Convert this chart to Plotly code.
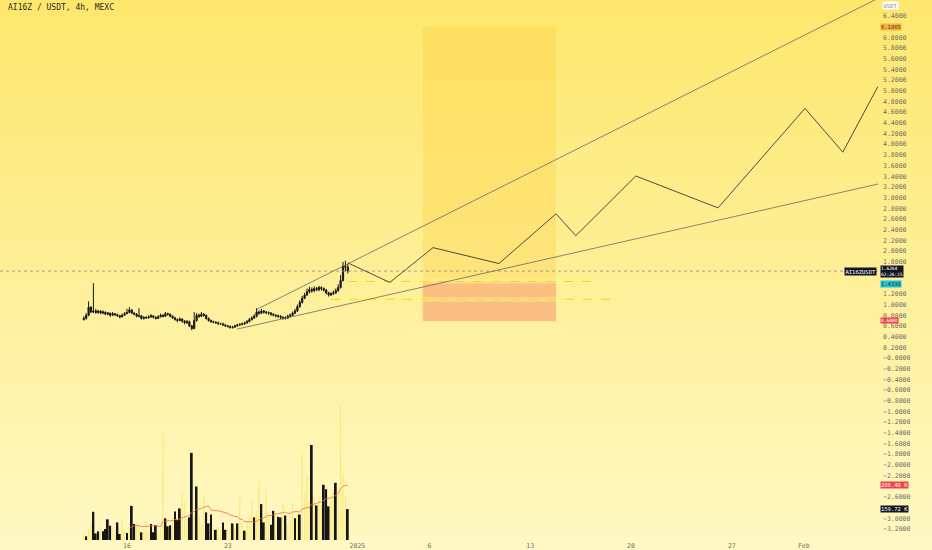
import pandas as pd
import plotly.graph_objects as go

# ---------------- data ----------------
symbol_title = "AI16Z / USDT, 4h, MEXC"
symbol_tag = "AI16ZUSDT"
start_time = "2024-12-13 00:00"
first_open = 0.72

closes = [0.74, 0.80, 0.95, 0.86, 0.88, 0.85, 0.88, 0.84, 0.86, 0.82,
          0.84, 0.80, 0.83, 0.81, 0.79, 0.77, 0.80, 0.83, 0.85, 0.90,
          0.84, 0.82, 0.78, 0.79, 0.74, 0.76, 0.75, 0.77, 0.79, 0.76,
          0.74, 0.77, 0.80, 0.78, 0.83, 0.82, 0.78, 0.75, 0.72, 0.70,
          0.73, 0.69, 0.66, 0.68, 0.60, 0.55, 0.70, 0.80, 0.78, 0.82,
          0.80, 0.74, 0.70, 0.68, 0.67, 0.66, 0.64, 0.64, 0.62, 0.60,
          0.59, 0.57, 0.58, 0.60, 0.62, 0.63, 0.64, 0.66, 0.68, 0.72,
          0.75, 0.78, 0.86, 0.84, 0.88, 0.86, 0.85, 0.84, 0.82, 0.80,
          0.79, 0.78, 0.76, 0.74, 0.75, 0.78, 0.80, 0.84, 0.88, 0.96,
          1.04, 1.12, 1.18, 1.24, 1.28, 1.26, 1.30, 1.28, 1.32, 1.30,
          1.27, 1.22, 1.18, 1.20, 1.22, 1.26, 1.32, 1.45, 1.72, 1.70,
          1.6264]
highs = [0.78, 0.84, 1.06, 0.97, 1.40, 0.92, 0.90, 0.89, 0.89, 0.87,
         0.86, 0.85, 0.86, 0.84, 0.83, 0.81, 0.83, 0.86, 0.92, 0.95,
         0.91, 0.86, 0.84, 0.93, 0.80, 0.78, 0.78, 0.80, 0.82, 0.80,
         0.78, 0.80, 0.83, 0.82, 0.86, 0.85, 0.83, 0.80, 0.77, 0.74,
         0.76, 0.74, 0.71, 0.71, 0.70, 0.62, 0.86, 0.84, 0.83, 0.86,
         0.84, 0.81, 0.76, 0.72, 0.70, 0.69, 0.68, 0.66, 0.66, 0.64,
         0.62, 0.61, 0.60, 0.62, 0.64, 0.65, 0.66, 0.68, 0.71, 0.75,
         0.78, 0.82, 0.93, 0.89, 0.92, 0.90, 0.88, 0.87, 0.86, 0.84,
         0.82, 0.81, 0.80, 0.78, 0.78, 0.81, 0.83, 0.87, 0.92, 1.00,
         1.08, 1.16, 1.22, 1.30, 1.33, 1.32, 1.34, 1.33, 1.35, 1.34,
         1.32, 1.29, 1.24, 1.23, 1.26, 1.30, 1.38, 1.55, 1.80, 1.82,
         1.76]
lows = [0.70, 0.72, 0.78, 0.84, 0.84, 0.83, 0.83, 0.82, 0.82, 0.80,
        0.80, 0.77, 0.79, 0.79, 0.77, 0.74, 0.76, 0.79, 0.82, 0.84,
        0.82, 0.80, 0.76, 0.76, 0.72, 0.72, 0.73, 0.74, 0.75, 0.74,
        0.72, 0.73, 0.76, 0.76, 0.77, 0.79, 0.76, 0.73, 0.70, 0.67,
        0.69, 0.66, 0.63, 0.64, 0.58, 0.52, 0.54, 0.68, 0.75, 0.77,
        0.77, 0.72, 0.68, 0.66, 0.65, 0.64, 0.62, 0.62, 0.60, 0.58,
        0.57, 0.55, 0.55, 0.56, 0.59, 0.60, 0.61, 0.62, 0.64, 0.67,
        0.70, 0.73, 0.76, 0.81, 0.82, 0.83, 0.82, 0.81, 0.79, 0.78,
        0.76, 0.75, 0.73, 0.72, 0.72, 0.73, 0.76, 0.78, 0.82, 0.86,
        0.94, 1.02, 1.10, 1.16, 1.21, 1.22, 1.23, 1.25, 1.25, 1.26,
        1.24, 1.19, 1.15, 1.16, 1.18, 1.20, 1.24, 1.30, 1.43, 1.62,
        1.58]
volumes_k = [30, 19, 60, 90, 146, 34, 45, 70, 45, 57,
             107, 74, 60, 40, 91, 31, 110, 50, 36, 60,
             177, 83, 90, 80, 40, 60, 110, 50, 83, 40,
             77, 40, 60, 550, 112, 71, 76, 120, 148, 103,
             163, 240, 200, 110, 117, 451, 130, 277, 120, 80,
             229, 143, 86, 132, 60, 53, 70, 50, 91, 53,
             60, 80, 86, 70, 86, 220, 90, 48, 100, 120,
             200, 117, 150, 303, 186, 91, 263, 120, 79, 151,
             100, 120, 117, 186, 127, 80, 110, 186, 112, 150,
             132, 447, 250, 340, 200, 492, 220, 179, 220, 180,
             286, 263, 174, 200, 254, 296, 240, 698, 344, 230,
             159.72]
vol_dir = "".join(["UDUUDDDUDD", "DDUUDDUUDU", "DDUUDUUUDD", "DUUUDDDUDD",
                   "DUUUDDUDUU", "UDDDUDUUDD", "UUDUDUUDUU", "UDUUDDUUDD",
                   "UDDUDUUUDU", "DUUUUDUDUU", "DDDUUDUUUU", "D"])
vol_ma_len = 20

last_price = 1.6264
countdown = "02:26:15"
vol_ma_label = "288.40 K"
vol_last_label = "159.72 K"

# drawings
zigzag_times = ["2024-12-31 08:00", "2025-01-03 06:00", "2025-01-06 06:00",
                "2025-01-10 20:00", "2025-01-14 19:00", "2025-01-16 04:00",
                "2025-01-20 08:00", "2025-01-26 01:00", "2025-02-01 02:00",
                "2025-02-03 17:00", "2025-02-06 03:30"]
zigzag_prices = [1.78, 1.414, 2.065, 1.767, 2.698, 2.288, 3.405, 2.809,
                 4.670, 3.851, 5.079]
upper_trend_times = ["2024-12-25 00:40", "2025-02-06 04:00"]
upper_trend_prices = [0.912, 6.73]
lower_trend_times = ["2024-12-23 15:20", "2025-02-06 04:00"]
lower_trend_prices = [0.540, 3.256]
position_times = ["2025-01-05 13:00", "2025-01-14 19:00"]
position_target = 6.1865
position_entry = 1.433
position_stop = 0.688
ray_a_times = ["2024-12-31 08:00", "2025-01-17 17:00"]
ray_a_price = 1.433
ray_b_times = ["2024-12-30 04:00", "2025-01-18 13:00"]
ray_b_price = 1.098

x_tick_dates = ["2024-12-16", "2024-12-23", "2025-01-01", "2025-01-06",
                "2025-01-13", "2025-01-20", "2025-01-27", "2025-02-01"]
x_tick_text = ["16", "23", "2025", "6", "13", "20", "27", "Feb"]

hidden_ticks = {6.2, 1.6, 1.4, -2.4, -2.8}
y_tick_values = [round(-3.2 + 0.2 * k, 1) for k in range(49)]
y_tick_values = [v for v in y_tick_values if v not in hidden_ticks]
y_tick_text = [("−0.0000" if v == 0 else f"{v:.4f}".replace("-", "−")) for v in y_tick_values]

# ---------------- derived ----------------
times = pd.date_range(start_time, periods=len(closes), freq="4h")
opens = [first_open] + closes[:-1]
vol_series = pd.Series(volumes_k, dtype=float)
vol_ma = vol_series.rolling(vol_ma_len).mean()
up_t = [t for t, d in zip(times, vol_dir) if d == "U"]
up_v = [v for v, d in zip(volumes_k, vol_dir) if d == "U"]
dn_t = [t for t, d in zip(times, vol_dir) if d == "D"]
dn_v = [v for v, d in zip(volumes_k, vol_dir) if d == "D"]

# ---------------- layout constants ----------------
W, H = 932, 550
ML, MR, MT, MB = 0, 54, 0, 7
px_per_day = 14.4
x_ref_day = pd.Timestamp("2024-12-16")
x_ref_px = 127
x_start = x_ref_day - pd.Timedelta(days=(x_ref_px - ML) / px_per_day)
x_end = x_ref_day + pd.Timedelta(days=(W - MR - x_ref_px) / px_per_day)
y_range = [-3.405, 6.698]
vol_range = [0, 2796]
bar_ms = 4 * 3600 * 1000

fig = go.Figure()

# background gradient
top_rgb = (253, 231, 108)
bot_rgb = (255, 248, 196)
n_bands = 60
y_lo, y_hi = -0.03, 1.0
for k in range(n_bands):
    t = (k + 0.5) / n_bands
    col = tuple(int(round(top_rgb[j] + (bot_rgb[j] - top_rgb[j]) * t)) for j in range(3))
    y1 = y_hi - (y_hi - y_lo) * k / n_bands
    y0 = y_hi - (y_hi - y_lo) * (k + 1) / n_bands
    fig.add_shape(type="rect", xref="paper", yref="paper", x0=-0.01, x1=1.08,
                  y0=y0, y1=y1 + 0.002, fillcolor=f"rgb({col[0]},{col[1]},{col[2]})",
                  line_width=0, layer="below")

# position tool
fig.add_shape(type="rect", xref="x", yref="y", x0=position_times[0], x1=position_times[1],
              y0=position_entry, y1=position_target, fillcolor="rgba(255,200,50,0.28)",
              line_width=0, layer="below")
fig.add_shape(type="rect", xref="x", yref="y", x0=position_times[0], x1=position_times[1],
              y0=position_stop, y1=position_entry, fillcolor="rgba(248,130,100,0.45)",
              line_width=0, layer="below")

# horizontal rays with soft bands
for rt, rp in ((ray_a_times, ray_a_price), (ray_b_times, ray_b_price)):
    fig.add_shape(type="rect", xref="x", yref="y", x0=rt[0], x1=rt[1],
                  y0=rp - 0.04, y1=rp + 0.04, fillcolor="rgba(255,246,130,0.55)",
                  line_width=0, layer="below")
    fig.add_trace(go.Scatter(x=rt, y=[rp, rp], mode="lines",
                             line=dict(color="#efd23a", width=1, dash="dash"),
                             hoverinfo="skip"))

# last price dotted line
fig.add_trace(go.Scatter(x=[x_start, x_end], y=[last_price, last_price], mode="lines",
                         line=dict(color="#8a8a8a", width=0.8, dash="dot"), hoverinfo="skip"))

# volume
fig.add_trace(go.Bar(x=up_t, y=up_v, yaxis="y2", width=bar_ms * 0.45,
                     marker=dict(color="rgba(245,220,60,0.55)", line_width=0)))
fig.add_trace(go.Bar(x=dn_t, y=dn_v, yaxis="y2", width=bar_ms * 0.75,
                     marker=dict(color="#161616", line_width=0)))
fig.add_trace(go.Scatter(x=times, y=vol_ma, yaxis="y2", mode="lines",
                         line=dict(color="#ee6a4c", width=0.8), hoverinfo="skip"))

# candles
fig.add_trace(go.Candlestick(
    x=times, open=opens, high=highs, low=lows, close=closes,
    increasing=dict(line=dict(color="#161616", width=1), fillcolor="#161616"),
    decreasing=dict(line=dict(color="#161616", width=1), fillcolor="#161616"),
    whiskerwidth=0))

# trend lines and projection
fig.add_trace(go.Scatter(x=upper_trend_times, y=upper_trend_prices, mode="lines",
                         line=dict(color="#6a6a6a", width=0.8), hoverinfo="skip"))
fig.add_trace(go.Scatter(x=lower_trend_times, y=lower_trend_prices, mode="lines",
                         line=dict(color="#6a6a6a", width=0.8), hoverinfo="skip"))
fig.add_trace(go.Scatter(x=zigzag_times, y=zigzag_prices, mode="lines",
                         line=dict(color="#3a3a3a", width=0.9), hoverinfo="skip"))

lab_font = "DejaVu Sans Mono"
ann = []
ann.append(dict(text=symbol_title, xref="paper", yref="paper", x=0.007, y=1.0,
                xanchor="left", yanchor="top", yshift=-1, showarrow=False,
                font=dict(family=lab_font, size=8, color="#2b2b2b")))


def axis_label(text, y, yref, bg, fg, size=5.5):
    return dict(text=text, xref="paper", yref=yref, x=1.0, y=y, xanchor="left",
                yanchor="middle", xshift=2, showarrow=False, bgcolor=bg, borderpad=0,
                font=dict(family=lab_font, size=size, color=fg), align="left")


ann.append(dict(text="USDT", xref="paper", yref="paper", x=1.0, y=1.0, xanchor="left",
                yanchor="top", xshift=4, yshift=-1, showarrow=False, bgcolor="#ffffff",
                borderpad=0.5, font=dict(family=lab_font, size=5.5, color="#888888")))
ann.append(axis_label(f"{position_target:.4f}", position_target, "y", "#f5b342", "#4a3a10"))
ann.append(axis_label(f"{last_price:.4f}<br>{countdown}", last_price, "y", "#131722",
                      "#ffffff", size=4.5))
ann.append(axis_label(f"{position_entry:.4f}", position_entry - 0.05, "y", "#22c3d6", "#1a3a40"))
ann.append(axis_label(f"{position_stop:.4f}", position_stop + 0.02, "y", "#f0404a", "#ffffff",
                      size=4.5))
ann.append(axis_label(vol_ma_label, float(vol_ma.iloc[-1]), "y2", "#f0404a", "#ffffff"))
ann.append(axis_label(vol_last_label, volumes_k[-1], "y2", "#131722", "#ffffff"))
ann.append(dict(text=symbol_tag, xref="paper", yref="y", x=1.0, y=last_price, xanchor="right",
                yanchor="middle", xshift=-1, showarrow=False, bgcolor="#131722", borderpad=0.5,
                font=dict(family=lab_font, size=5.5, color="#ffffff")))

fig.update_layout(
    width=W, height=H,
    margin=dict(l=ML, r=MR, t=MT, b=MB),
    paper_bgcolor="#fef1a5",
    plot_bgcolor="rgba(0,0,0,0)",
    showlegend=False,
    barmode="overlay",
    annotations=ann,
    xaxis=dict(type="date", range=[x_start, x_end], showgrid=False, zeroline=False,
               tickmode="array", tickvals=x_tick_dates, ticktext=x_tick_text,
               tickfont=dict(family=lab_font, size=6.5, color="#707070"),
               ticks="", ticklen=0, showline=False, rangeslider=dict(visible=False)),
    yaxis=dict(side="right", range=y_range, showgrid=False, zeroline=False,
               tickmode="array", tickvals=y_tick_values, ticktext=y_tick_text,
               tickfont=dict(family=lab_font, size=6.5, color="#707070"),
               ticks="", showline=False, ticklabelstandoff=4),
    yaxis2=dict(overlaying="y", range=vol_range, visible=False, showgrid=False),
)

fig.write_html("out.html", config={"displayModeBar": False},
               post_script="document.body.style.margin='0px';document.body.style.overflow='hidden';")
